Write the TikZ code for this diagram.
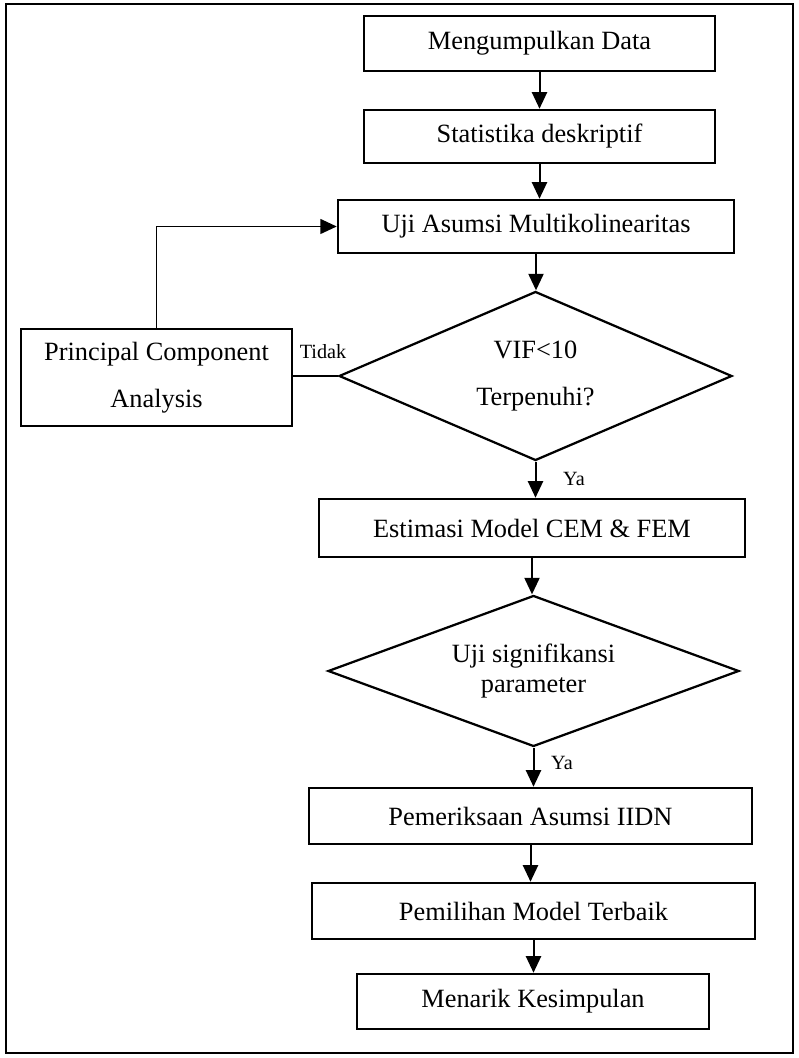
\documentclass[tikz,border=0pt]{standalone}
\usepackage{fontspec}
\setmainfont{Liberation Serif}
\usetikzlibrary{arrows.meta,shapes.geometric}
\usepackage{xcolor}
\definecolor{flowInk}{HTML}{000000}
\tikzset{
  stepbox/.style = {draw=flowInk, line width=0.5mm, inner sep=0, minimum height=11mm,
                    font=\fontsize{15}{18}\selectfont},
  choice/.style  = {diamond, draw=flowInk, line width=0.45mm, inner sep=0, align=center},
  flow/.style    = {line width=0.4mm, color=flowInk,
                    -{Triangle[length=3.3mm,width=3mm]}},
  loopline/.style = {line width=0.3mm, color=flowInk},
  answer/.style  = {font=\fontsize{11.5}{13}\selectfont, inner sep=0},
}

\begin{document}
\begin{tikzpicture}[x=1mm, y=1mm, line cap=butt]

\useasboundingbox (0,0) rectangle (159.6,211.6);
\draw[line width=0.4mm] (1.2,1.0) rectangle (158.6,210.8);

% ===================== main column ==========================
\node[stepbox, minimum width=70.2mm] (collect) at (107.9,202.9) {Mengumpulkan Data};
\node[stepbox, minimum width=70.2mm, minimum height=10.6mm] (descr) at (107.9,184.3)
  {Statistika deskriptif};
\node[stepbox, minimum width=79.2mm, minimum height=10.6mm] (multi) at (107.2,166.3)
  {Uji Asumsi Multikolinearitas};
\node[choice, aspect=2.33, minimum width=78.6mm, minimum height=33.8mm,
      font=\fontsize{15}{27}\selectfont] (vif) at (107.1,136.4) {VIF<10\\Terpenuhi?};
\node[stepbox, minimum width=85.2mm, minimum height=11.6mm] (estim) at (106.4,106.0)
  {Estimasi Model CEM \& FEM};
\node[choice, aspect=2.72, minimum width=82.2mm, minimum height=30.2mm,
      font=\fontsize{15}{17.5}\selectfont] (signif) at (106.7,77.4)
  {Uji signifikansi\\parameter};
\node[stepbox, minimum width=88.6mm, minimum height=11.2mm] (iidn) at (106.1,48.4)
  {Pemeriksaan Asumsi IIDN};
\node[stepbox, minimum width=88.6mm, minimum height=11.2mm] (best) at (106.7,29.4)
  {Pemilihan Model Terbaik};
\node[stepbox, minimum width=70.4mm] (concl) at (106.6,11.3) {Menarik Kesimpulan};

% ===================== side branch ==========================
\node[draw=flowInk, line width=0.35mm, inner sep=0, minimum width=54.2mm,
      minimum height=19.4mm, align=center, font=\fontsize{15}{27}\selectfont]
  (pca) at (31.3,136.1) {Principal Component\\Analysis};

\node[answer] (no) at (64.6,141.2) {Tidak};
\node[answer] (yes1) at (114.8,115.8) {Ya};
\node[answer] (yes2) at (112.4,59.0) {Ya};

% ===================== connectors ===========================
\draw[flow] (collect.south) -- (collect.south |- descr.north);
\draw[flow] (descr.south) -- (descr.south |- multi.north);
\draw[flow] (multi.south) -- (multi.south |- vif.north);
\draw[flow] (vif.south) -- (vif.south |- estim.north);
\draw[flow] (estim.south) -- (estim.south |- signif.north);
\draw[flow] (signif.south) -- (signif.south |- iidn.north);
\draw[flow] (iidn.south) -- (iidn.south |- best.north);
\draw[flow] (best.south) -- (best.south |- concl.north);

\draw[loopline] (vif.west) -- (vif.west -| pca.east);
\draw[loopline, -{Triangle[length=3.3mm,width=3mm]}]
  (pca.north) |- (multi.west);

\end{tikzpicture}
\end{document}
